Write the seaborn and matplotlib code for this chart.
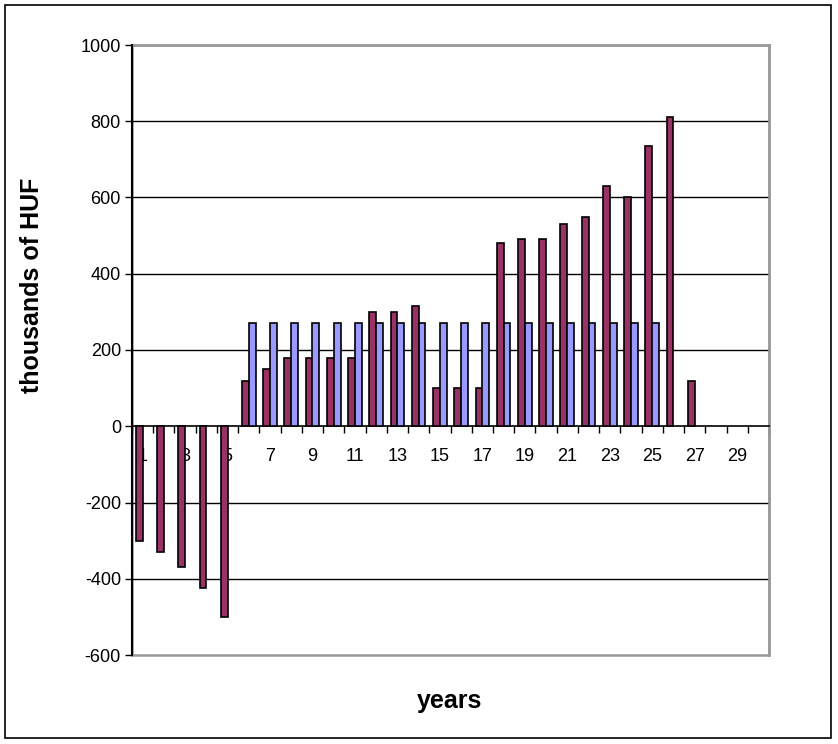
import numpy as np
import pandas as pd
import seaborn as sns
import matplotlib.pyplot as plt
from matplotlib.patches import Rectangle

nan = np.nan

# Step 1: values (thousands of HUF per year)
years = list(range(1, 31))
cash_flow = [-300, -330, -370, -425, -500, 120, 150, 180, 180, 180,
             180, 300, 300, 315, 100, 100, 100, 480, 490, 490,
             530, 550, 630, 600, 735, 810, 120, nan, nan, nan]
annuity = [nan, nan, nan, nan, nan, 270, 270, 270, 270, 270,
           270, 270, 270, 270, 270, 270, 270, 270, 270, 270,
           270, 270, 270, 270, 270, nan, nan, nan, nan, nan]
series_names = ["cash flow", "annuity"]
series_colors = ["#993366", "#9999FF"]
y_ticks = [-600, -400, -200, 0, 200, 400, 600, 800, 1000]

# Step 2: long table for seaborn
df = pd.DataFrame({
    "year": years * 2,
    "series": [series_names[0]] * len(years) + [series_names[1]] * len(years),
    "value": cash_flow + annuity,
})

sns.set_style("white")
plt.rcParams["font.family"] = ["Liberation Sans", "DejaVu Sans"]
plt.rcParams["text.color"] = "black"
plt.rcParams["xtick.labelcolor"] = "black"
plt.rcParams["ytick.labelcolor"] = "black"

fig = plt.figure(figsize=(8.38, 7.44), dpi=100)
ax = fig.add_axes([132 / 838, 1 - 655 / 744, (769 - 132) / 838, (655 - 45) / 744])

sns.barplot(data=df, x="year", y="value", hue="series", order=years,
            hue_order=series_names, palette=series_colors, width=0.64,
            errorbar=None, edgecolor="black", linewidth=1.2, saturation=1,
            legend=False, ax=ax, zorder=3)

# Step 3: axes in the old spreadsheet style
ax.set_xlim(-0.5, len(years) - 0.5)
ax.set_ylim(-600, 1000)
ax.set_yticks(y_ticks)
ax.set_yticklabels([str(t) for t in y_ticks])
for t in y_ticks[1:-1]:
    if t != 0:
        ax.axhline(t, color="black", lw=1, zorder=1)

ax.set_xticks(np.arange(-0.5, len(years), 1.0))
ax.set_xticklabels([])
ax.set_xticks([i for i, y in enumerate(years) if y % 2 == 1], minor=True)
ax.set_xticklabels([str(y) for y in years if y % 2 == 1], minor=True)
ax.tick_params(axis="x", which="major", direction="out", length=5, width=1,
               color="black", bottom=True)
ax.tick_params(axis="x", which="minor", length=0, pad=15.5, labelsize=13,
               bottom=True, labelcolor="black")
ax.tick_params(axis="y", direction="out", length=5, width=1, color="black",
               pad=3, left=True, labelsize=13, labelcolor="black")

ax.spines["bottom"].set_position(("data", 0))
ax.spines["bottom"].set_color("black")
ax.spines["bottom"].set_linewidth(1.2)
ax.spines["left"].set_color("black")
ax.spines["left"].set_linewidth(1.5)
ax.spines["left"].set_zorder(5)
for s in ["top", "right"]:
    ax.spines[s].set_color("#999999")
    ax.spines[s].set_linewidth(1.8)
ax.add_patch(Rectangle((0, 0), 1, 1, transform=ax.transAxes, fill=False,
                       edgecolor="#999999", lw=1.8, zorder=0, clip_on=False))

ax.set_xlabel("")
ax.set_ylabel("")
fig.text(32 / 838, 1 - 285 / 744, "thousands of HUF", rotation=90, fontsize=18,
         fontweight="bold", ha="center", va="center", color="black")
fig.text(450 / 838, 1 - 701 / 744, "years", fontsize=18, fontweight="bold",
         ha="center", va="center", color="black")

# outer chart border
fig.patches.append(Rectangle((5 / 838, 1 - 738 / 744), 826 / 838, 733 / 744,
                             transform=fig.transFigure, fill=False,
                             edgecolor="black", lw=1.2))

plt.savefig("out.png", dpi=100)
